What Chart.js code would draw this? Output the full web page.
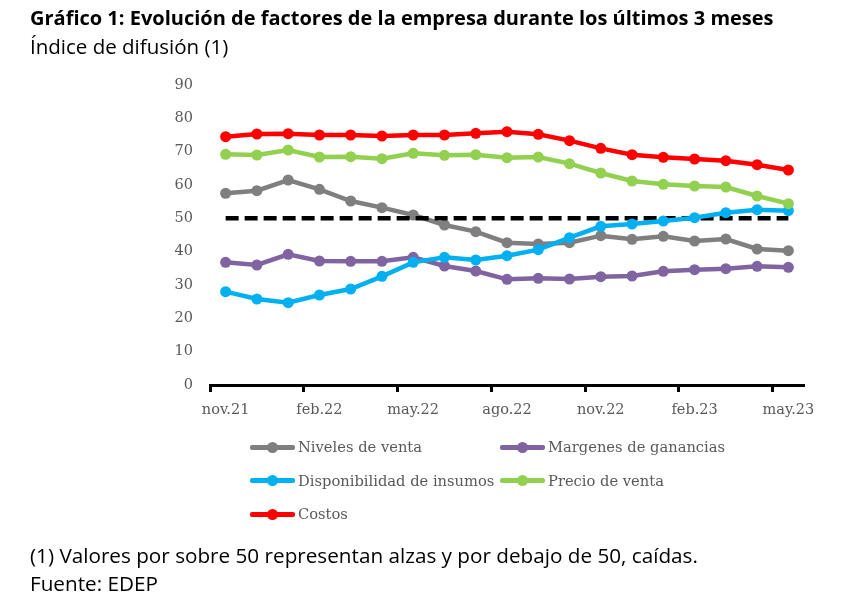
<!DOCTYPE html>
<html>
<head>
<meta charset="utf-8">
<script src="https://cdn.jsdelivr.net/npm/chart.js@4"></script>
<style>
  body { margin: 0; background: #fff; }
  #wrap { position: relative; width: 843px; height: 605px; }
  #wrap canvas { position: absolute; left: 0; top: 0; }
  .txt { position: absolute; left: 30px; font-family: "Open Sans", sans-serif; color: #000; white-space: nowrap; }
  #title { top: 4px; font-size: 20px; font-weight: bold; }
  #subtitle { top: 32px; font-size: 20.5px; }
  #note { top: 541px; font-size: 20.7px; }
  #source { top: 569px; font-size: 20.7px; }
  #legend { position: absolute; left: 250px; top: 430px; display: grid; grid-template-columns: 250px auto; grid-auto-rows: 33.5px; }
  .item { display: flex; align-items: center; font-family: "DejaVu Serif", serif; font-size: 14.7px; color: #595959; }
  .sym { position: relative; width: 45px; height: 12px; margin-right: 3px; }
  .sym .ln { position: absolute; left: 0; right: 0; top: 4px; height: 5px; border-radius: 2px; }
  .sym .dt { position: absolute; left: 17px; top: 1px; width: 11px; height: 11px; border-radius: 50%; }
</style>
</head>
<body>
<div id="wrap">
  <canvas id="canvas"></canvas>
  <div class="txt" id="title">Gráfico 1: Evolución de factores de la empresa durante los últimos 3 meses</div>
  <div class="txt" id="subtitle">Índice de difusión (1)</div>
  <div id="legend"></div>
  <div class="txt" id="note">(1) Valores por sobre 50 representan alzas y por debajo de 50, caídas.</div>
  <div class="txt" id="source">Fuente: EDEP</div>
</div>
<script>
var MONTHS = ['nov.21', 'dic.21', 'ene.22', 'feb.22', 'mar.22', 'abr.22', 'may.22', 'jun.22', 'jul.22',
    'ago.22', 'sep.22', 'oct.22', 'nov.22', 'dic.22', 'ene.23', 'feb.23', 'mar.23', 'abr.23', 'may.23'
];
var nivelesVenta = [57.5, 58.3, 61.5, 58.7, 55.2, 53.2, 51, 48, 46, 42.7, 42.3, 42.7, 44.8, 43.7, 44.6, 43.2, 43.8, 40.8, 40.3];
var margenes = [36.8, 36, 39.2, 37.2, 37.1, 37.1, 38.3, 35.7, 34.2, 31.7, 32, 31.8, 32.5, 32.7, 34.1, 34.6, 34.9, 35.6, 35.3];
var disponibilidad = [28, 25.8, 24.7, 27, 28.8, 32.6, 36.8, 38.3, 37.5, 38.8, 40.6, 44.2, 47.6, 48.3, 49.2, 50.2, 51.7, 52.6, 52.3];
var precioVenta = [69.2, 69, 70.5, 68.4, 68.5, 67.9, 69.5, 68.9, 69.1, 68.2, 68.4, 66.4, 63.6, 61.2, 60.2, 59.7, 59.4, 56.7, 54.4];
var costos = [74.5, 75.3, 75.4, 75, 75, 74.7, 75, 75, 75.5, 76, 75.2, 73.3, 71, 69.1, 68.3, 67.8, 67.3, 66.1, 64.5];
var umbral = MONTHS.map(function() { return 50; });
var Y_TICKS = [0, 10, 20, 30, 40, 50, 60, 70, 80, 90];

function serie(label, data, color, order) {
    return {
        label: label,
        data: data,
        borderColor: color,
        backgroundColor: color,
        borderWidth: 4.5,
        pointRadius: 5.5,
        pointHoverRadius: 5.5,
        pointBorderWidth: 0,
        tension: 0,
        order: order
    };
}

var datasets = [
    serie('Niveles de venta', nivelesVenta, '#7f7f7f', 5),
    serie('Margenes de ganancias', margenes, '#8064a2', 4),
    serie('Disponibilidad de insumos', disponibilidad, '#00b0f0', 2),
    serie('Precio de venta', precioVenta, '#92d050', 1),
    serie('Costos', costos, '#ff0000', 0),
    {
        label: '',
        data: umbral,
        borderColor: '#000',
        borderWidth: 4.5,
        borderDash: [13, 6],
        pointRadius: 0,
        order: 3
    }
];

var ctx = document.getElementById('canvas').getContext('2d');
var chart = new Chart(ctx, {
    type: 'line',
    data: { labels: MONTHS, datasets: datasets },
    options: {
        responsive: true,
        maintainAspectRatio: false,
        animation: false,
        layout: { padding: { left: 160, right: 39, top: 85, bottom: 185 } },
        plugins: { legend: { display: false }, tooltip: { enabled: false } },
        scales: {
            x: {
                offset: true,
                grid: {
                    display: true,
                    drawOnChartArea: false,
                    offset: true,
                    tickLength: 7,
                    tickWidth: 3,
                    tickColor: function(c) { return (c.index !== undefined && c.index % 3 === 0) ? '#000' : 'rgba(0,0,0,0)'; }
                },
                border: { display: true, color: '#000', width: 3 },
                ticks: {
                    autoSkip: false,
                    maxRotation: 0,
                    padding: 10,
                    color: '#595959',
                    font: { family: 'DejaVu Serif', size: 14.5 },
                    callback: function(v, i) { return i % 3 === 0 ? MONTHS[i] : ''; }
                },
                afterFit: function(s) { s.height = 35; }
            },
            y: {
                min: 0,
                max: 90,
                afterBuildTicks: function(s) { s.ticks = Y_TICKS.map(function(v) { return { value: v }; }); },
                grid: { display: false },
                border: { display: false },
                ticks: {
                    padding: 9,
                    color: '#595959',
                    font: { family: 'DejaVu Serif', size: 14.5 }
                },
                afterFit: function(s) { s.width = 50; }
            }
        }
    }
});

// leyenda en dos columnas, armada desde los datasets
var legend = document.getElementById('legend');
chart.data.datasets.forEach(function(ds) {
    if (!ds.label) return;
    var it = document.createElement('div');
    it.className = 'item';
    it.innerHTML = '<span class="sym"><span class="ln" style="background:' + ds.borderColor + '"></span>' +
        '<span class="dt" style="background:' + ds.borderColor + '"></span></span>' + ds.label;
    legend.appendChild(it);
});
</script>
</body>
</html>
